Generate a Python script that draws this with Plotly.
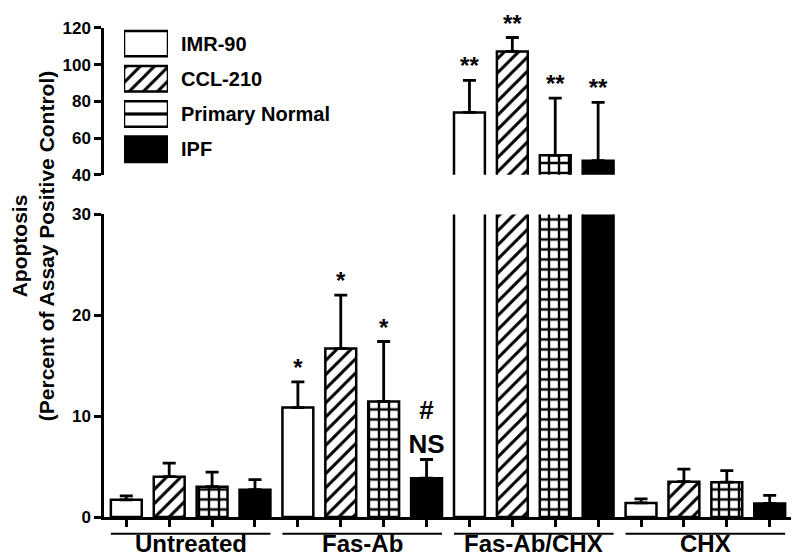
import plotly.graph_objects as go

groups = ["Untreated", "Fas-Ab", "Fas-Ab/CHX", "CHX"]
series = ["IMR-90", "CCL-210", "Primary Normal", "IPF"]

imr90 = [1.7, 10.85, 74.0, 1.4]
imr90_err = [0.4, 2.55, 17.4, 0.4]
ccl210 = [4.0, 16.7, 107.2, 3.5]
ccl210_err = [1.35, 5.3, 7.6, 1.25]
primary = [3.0, 11.45, 50.6, 3.45]
primary_err = [1.45, 5.95, 31.2, 1.15]
ipf = [2.7, 3.85, 47.7, 1.35]
ipf_err = [1.0, 1.85, 31.8, 0.8]

imr90_sig = ["", "*", "**", ""]
ccl210_sig = ["", "*", "**", ""]
primary_sig = ["", "*", "**", ""]
ipf_sig = ["", "#<br>NS", "**", ""]

lower_ticks = [0, 10, 20, 30]
upper_ticks = [40, 60, 80, 100, 120]

values = [imr90, ccl210, primary, ipf]
errors = [imr90_err, ccl210_err, primary_err, ipf_err]
sigs = [imr90_sig, ccl210_sig, primary_sig, ipf_sig]

# fill style per series
patterns = [
    dict(shape="", bgcolor="white"),
    dict(shape="/", fgcolor="black", fgopacity=1, bgcolor="white", size=10, solidity=0.3),
    dict(shape="+", fgcolor="black", fgopacity=1, bgcolor="white", size=10, solidity=0.42),
    dict(shape="", bgcolor="black"),
]
legend_patterns = [
    dict(shape="", bgcolor="white"),
    dict(shape="/", fgcolor="black", fgopacity=1, bgcolor="white", size=10, solidity=0.3),
    dict(shape="-", fgcolor="black", fgopacity=1, bgcolor="white", size=16, solidity=0.2),
    dict(shape="", bgcolor="black"),
]
fills = ["white", "white", "white", "black"]

FONT = "Liberation Sans, Arial, sans-serif"
OFF = 8  # page body margin
W, H = 799 - OFF, 559 - OFF
L, R, T, B = 104 - OFF, 7, 20 - OFF, 42


def py(p):
    # reference pixel row -> paper fraction
    return (H - B - (p - OFF)) / (H - B - T)


def px(p):
    return (p - OFF - L) / (W - L - R)


fig = go.Figure()

n = len(series)
for s in range(n):
    xs = [g * n + s for g in range(len(groups))]
    for yax in ["y", "y2"]:
        fig.add_trace(
            go.Bar(
                x=xs,
                y=values[s],
                width=0.72,
                marker=dict(
                    color=fills[s],
                    line=dict(color="black", width=2.5),
                    pattern=patterns[s],
                ),
                error_y=dict(
                    type="data",
                    array=errors[s],
                    arrayminus=[0] * len(groups),
                    symmetric=False,
                    color="black",
                    thickness=2.8,
                    width=6.5,
                ),
                yaxis=yax,
                showlegend=False,
            )
        )

    # significance marks
    tops = [v + e for v, e in zip(values[s], errors[s])]
    for yax, keep in [("y", lambda t: t <= 30), ("y2", lambda t: t > 30)]:
        idx = [g for g in range(len(groups)) if sigs[s][g] and keep(tops[g])]
        if not idx:
            continue
        fig.add_trace(
            go.Scatter(
                x=[xs[g] for g in idx],
                y=[tops[g] for g in idx],
                text=[sigs[s][g] for g in idx],
                mode="text",
                textposition="top center",
                textfont=dict(
                    family=FONT,
                    weight="bold",
                    color="black",
                    size=[26 if "NS" in sigs[s][g] else 24 for g in idx],
                ),
                cliponaxis=False,
                yaxis=yax,
                showlegend=False,
            )
        )

    # legend swatch
    fig.add_trace(
        go.Bar(
            x=[1],
            y=[s],
            orientation="h",
            width=0.72,
            marker=dict(
                color=fills[s],
                line=dict(color="black", width=2.5),
                pattern=legend_patterns[s],
            ),
            xaxis="x2",
            yaxis="y3",
            showlegend=False,
        )
    )
    fig.add_annotation(
        x=px(179),
        xref="paper",
        y=s,
        yref="y3",
        text=series[s],
        showarrow=False,
        xanchor="left",
        yanchor="middle",
        font=dict(family=FONT, size=20, weight="bold", color="black"),
    )

# group underlines and labels
for g, name in enumerate(groups):
    c = g * n + (n - 1) / 2
    fig.add_shape(
        type="line",
        xref="x",
        yref="paper",
        x0=c - 1.86,
        x1=c + 1.86,
        y0=py(534),
        y1=py(534),
        line=dict(color="black", width=2),
    )
    fig.add_annotation(
        x=c,
        xref="x",
        y=py(544),
        yref="paper",
        text=name,
        showarrow=False,
        yanchor="middle",
        font=dict(family=FONT, size=24, weight="bold", color="black"),
    )

fig.add_annotation(
    x=px(33),
    xref="paper",
    y=py(244),
    yref="paper",
    text="Apoptosis<br>(Percent of Assay Positive Control)",
    textangle=-90,
    showarrow=False,
    xanchor="center",
    yanchor="middle",
    font=dict(family=FONT, size=21, weight="bold", color="black"),
)

axis_style = dict(
    showline=True,
    linecolor="black",
    linewidth=2.5,
    ticks="outside",
    ticklen=7,
    tickwidth=2.5,
    tickcolor="black",
    showgrid=False,
    zeroline=False,
    tickfont=dict(family=FONT, size=17, weight="bold", color="black"),
)

fig.update_layout(
    width=W,
    height=H,
    margin=dict(l=L, r=R, t=T, b=B),
    paper_bgcolor="white",
    plot_bgcolor="white",
    barmode="overlay",
    font=dict(family=FONT, weight="bold", color="black"),
    xaxis=dict(
        range=[-0.52, 15.52],
        tickvals=list(range(len(groups) * n)),
        showticklabels=False,
        anchor="y",
        **{k: v for k, v in axis_style.items() if k != "tickfont"},
    ),
    yaxis=dict(
        domain=[0, py(212)],
        range=[0, 30],
        tickvals=lower_ticks,
        anchor="x",
        **axis_style,
    ),
    yaxis2=dict(
        domain=[py(172), py(24)],
        range=[40, 120],
        tickvals=upper_ticks,
        anchor="x",
        **axis_style,
    ),
    xaxis2=dict(
        domain=[px(124), px(168)],
        range=[0, 1],
        visible=False,
        anchor="y3",
    ),
    yaxis3=dict(
        domain=[py(164), py(22)],
        range=[3.5, -0.5],
        visible=False,
        anchor="x2",
    ),
)

fig.write_html("out.html")
